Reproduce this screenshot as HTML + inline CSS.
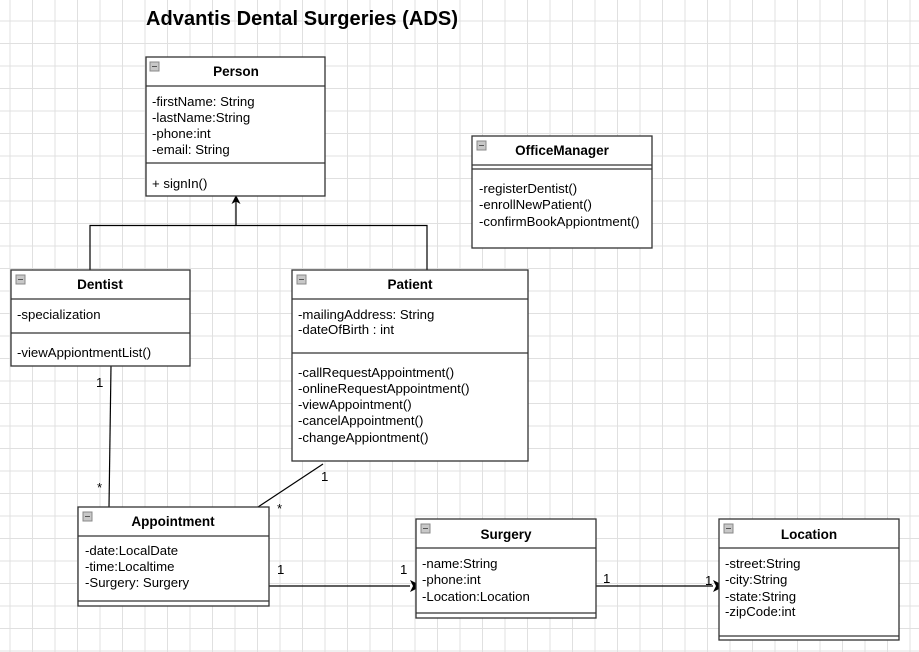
<!DOCTYPE html>
<html><head><meta charset="utf-8"><style>
html,body{margin:0;padding:0;background:#fff;}
svg{display:block;}
text{font-family:"Liberation Sans",Arial,sans-serif;font-size:13.2px;fill:#000;}
.h{font-weight:bold;font-size:13.5px;}
</style></head><body>
<svg width="919" height="652" viewBox="0 0 919 652" xmlns="http://www.w3.org/2000/svg">
<defs>
<pattern id="g" x="9.5" y="20.5" width="22.5" height="22.5" patternUnits="userSpaceOnUse">
<path d="M0 0.5H22.5M0.5 0V22.5" stroke="#e0e0e0" stroke-width="1" fill="none"/>
</pattern>
<g id="ic"><rect x="0" y="0" width="9" height="9" fill="#c8c8c8" stroke="#888" stroke-width="1"/><line x1="2" y1="4.5" x2="7" y2="4.5" stroke="#555"/></g>
</defs>
<rect width="919" height="652" fill="url(#g)"/>
<text x="146" y="25" style="font-weight:bold;font-size:20px" textLength="312">Advantis Dental Surgeries (ADS)</text>

<g stroke="#000" stroke-width="1.2" fill="none">
<polyline points="90,270 90,225.5 427,225.5 427,270"/>
<line x1="236" y1="225.5" x2="236" y2="200"/>
<line x1="111" y1="366" x2="109" y2="507"/>
<line x1="323" y1="464" x2="258" y2="507"/>
<line x1="269" y1="586" x2="410" y2="586"/>
<line x1="596" y1="586" x2="713" y2="586"/>
</g>
<path d="M236,195 L240.5,204 L236,201.5 L231.5,204 Z" fill="#000"/>
<path d="M422,586 L410,580 L413,586 L410,592 Z" fill="#000"/>
<path d="M725,586 L713,580 L716,586 L713,592 Z" fill="#000"/>

<g stroke="#333" stroke-width="1.3" fill="#fff">
<rect x="146" y="57" width="179" height="139"/>
<line x1="146" y1="86" x2="325" y2="86"/>
<line x1="146" y1="163" x2="325" y2="163"/>
</g>
<use href="#ic" x="150" y="62"/>
<text class="h" x="236" y="76" text-anchor="middle">Person</text>
<text x="152" y="106">-firstName: String</text>
<text x="152" y="122">-lastName:String</text>
<text x="152" y="138">-phone:int</text>
<text x="152" y="154">-email: String</text>
<text x="152" y="188">+ signIn()</text>

<g stroke="#333" stroke-width="1.3" fill="#fff">
<rect x="472" y="136" width="180" height="112"/>
<line x1="472" y1="165" x2="652" y2="165"/>
<line x1="472" y1="169" x2="652" y2="169"/>
</g>
<use href="#ic" x="477" y="141"/>
<text class="h" x="562" y="155" text-anchor="middle">OfficeManager</text>
<text x="479" y="193">-registerDentist()</text>
<text x="479" y="209">-enrollNewPatient()</text>
<text x="479" y="226">-confirmBookAppiontment()</text>

<g stroke="#333" stroke-width="1.3" fill="#fff">
<rect x="11" y="270" width="179" height="96"/>
<line x1="11" y1="299" x2="190" y2="299"/>
<line x1="11" y1="333" x2="190" y2="333"/>
</g>
<use href="#ic" x="16" y="275"/>
<text class="h" x="100" y="289" text-anchor="middle">Dentist</text>
<text x="17" y="319">-specialization</text>
<text x="17" y="357">-viewAppiontmentList()</text>

<g stroke="#333" stroke-width="1.3" fill="#fff">
<rect x="292" y="270" width="236" height="191"/>
<line x1="292" y1="299" x2="528" y2="299"/>
<line x1="292" y1="353" x2="528" y2="353"/>
</g>
<use href="#ic" x="297" y="275"/>
<text class="h" x="410" y="289" text-anchor="middle">Patient</text>
<text x="298" y="319">-mailingAddress: String</text>
<text x="298" y="334">-dateOfBirth : int</text>
<text x="298" y="377">-callRequestAppointment()</text>
<text x="298" y="393">-onlineRequestAppointment()</text>
<text x="298" y="409">-viewAppointment()</text>
<text x="298" y="425">-cancelAppointment()</text>
<text x="298" y="442">-changeAppiontment()</text>

<g stroke="#333" stroke-width="1.3" fill="#fff">
<rect x="78" y="507" width="191" height="99"/>
<line x1="78" y1="536" x2="269" y2="536"/>
<line x1="78" y1="601" x2="269" y2="601"/>
</g>
<use href="#ic" x="83" y="512"/>
<text class="h" x="173" y="526" text-anchor="middle">Appointment</text>
<text x="85" y="555">-date:LocalDate</text>
<text x="85" y="571">-time:Localtime</text>
<text x="85" y="587">-Surgery: Surgery</text>

<g stroke="#333" stroke-width="1.3" fill="#fff">
<rect x="416" y="519" width="180" height="99"/>
<line x1="416" y1="548" x2="596" y2="548"/>
<line x1="416" y1="613" x2="596" y2="613"/>
</g>
<use href="#ic" x="421" y="524"/>
<text class="h" x="506" y="539" text-anchor="middle">Surgery</text>
<text x="422" y="568">-name:String</text>
<text x="422" y="584">-phone:int</text>
<text x="422" y="601">-Location:Location</text>

<g stroke="#333" stroke-width="1.3" fill="#fff">
<rect x="719" y="519" width="180" height="121"/>
<line x1="719" y1="548" x2="899" y2="548"/>
<line x1="719" y1="636" x2="899" y2="636"/>
</g>
<use href="#ic" x="724" y="524"/>
<text class="h" x="809" y="539" text-anchor="middle">Location</text>
<text x="725" y="568">-street:String</text>
<text x="725" y="584">-city:String</text>
<text x="725" y="601">-state:String</text>
<text x="725" y="616">-zipCode:int</text>

<text x="96" y="387">1</text>
<text x="97" y="492">*</text>
<text x="321" y="481">1</text>
<text x="277" y="513">*</text>
<text x="277" y="574">1</text>
<text x="400" y="574">1</text>
<text x="603" y="583">1</text>
<text x="705" y="585">1</text>
</svg>
</body></html>
